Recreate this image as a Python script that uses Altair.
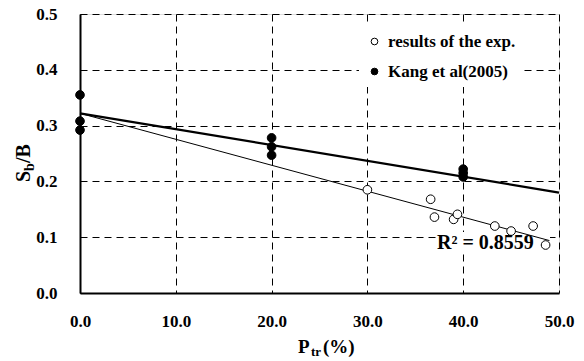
import altair as alt
import pandas as pd

# --- data ---
exp_x = [30.0, 36.6, 37.0, 39.0, 39.4, 43.3, 45.0, 47.3, 48.6]
exp_y = [0.185, 0.168, 0.136, 0.132, 0.141, 0.120, 0.111, 0.120, 0.086]

kang_x = [0, 0, 0, 20, 20, 20, 40, 40, 40]
kang_y = [0.355, 0.308, 0.292, 0.278, 0.262, 0.247, 0.222, 0.215, 0.208]

# regression lines (end points)
thick_x = [0, 50]
thick_y = [0.322, 0.180]
thin_x = [0, 49.0]
thin_y = [0.322, 0.094]

series_names = ["results of the exp.", "Kang et al(2005)"]
x_ticks = [0, 10, 20, 30, 40, 50]
y_ticks = [0, 0.1, 0.2, 0.3, 0.4, 0.5]
r2_label = "R² = 0.8559"

FONT = "Liberation Serif"

pts = pd.DataFrame({
    "x": exp_x + kang_x,
    "y": exp_y + kang_y,
    "s": [series_names[0]] * len(exp_x) + [series_names[1]] * len(kang_x),
})
thick = pd.DataFrame({"x": thick_x, "y": thick_y})
thin = pd.DataFrame({"x": thin_x, "y": thin_y})

xs = alt.Scale(domain=[0, 50], nice=False, zero=False)
ys = alt.Scale(domain=[0, 0.5], nice=False, zero=False)

common_axis = dict(format=".1f", title=None, ticks=False, labelFlush=False,
                   labelFont=FONT, labelFontWeight="bold", labelFontSize=17,
                   labelColor="black", domainColor="black", domainWidth=2,
                   gridColor="black", gridDash=[7, 5], gridWidth=1, gridOpacity=1)
xax = alt.Axis(values=x_ticks, labelPadding=20, **common_axis)
yax = alt.Axis(values=y_ticks, labelPadding=23, **common_axis)

base_axes = alt.Chart(pts).mark_point(opacity=0).encode(
    x=alt.X("x:Q", scale=xs, axis=xax),
    y=alt.Y("y:Q", scale=ys, axis=yax),
)

r2_bg = alt.Chart(pd.DataFrame({"t": [r2_label]})).mark_rect(color="white").encode(
    x=alt.value(356), x2=alt.value(470), y=alt.value(218), y2=alt.value(238)
)

thin_line = alt.Chart(thin).mark_line(color="black", strokeWidth=1).encode(
    x=alt.X("x:Q", scale=xs), y=alt.Y("y:Q", scale=ys)
)
thick_line = alt.Chart(thick).mark_line(color="black", strokeWidth=2.2).encode(
    x=alt.X("x:Q", scale=xs), y=alt.Y("y:Q", scale=ys)
)

points = alt.Chart(pts).mark_point(shape="circle", size=75, stroke="black",
                                   strokeWidth=1, filled=False, opacity=1).encode(
    x=alt.X("x:Q", scale=xs),
    y=alt.Y("y:Q", scale=ys),
    fill=alt.Fill("s:N", scale=alt.Scale(domain=series_names, range=["white", "black"]),
                  legend=alt.Legend(title=None, orient="none", legendX=279, legendY=12,
                                    fillColor="white", padding=7, rowPadding=12,
                                    symbolType="circle", symbolSize=45,
                                    symbolStrokeColor="black", symbolStrokeWidth=1,
                                    labelFont=FONT, labelFontWeight="bold",
                                    labelFontSize=17, labelColor="black",
                                    labelOffset=5)),
)

r2_text = alt.Chart(pd.DataFrame({"t": [r2_label]})).mark_text(
    font=FONT, fontWeight="bold", fontSize=20, align="left", baseline="middle",
    color="black").encode(text="t:N", x=alt.value(357), y=alt.value(229))

def txt(s, x, y, size, angle=0):
    return alt.Chart(pd.DataFrame({"t": [s]})).mark_text(
        font=FONT, fontWeight="bold", fontSize=size, align="left",
        baseline="alphabetic", color="black", angle=angle
    ).encode(text="t:N", x=alt.value(x), y=alt.value(y))

# x axis title  P_tr(%)
xt = [txt("P", 218, 339, 19), txt("tr", 231, 342, 13), txt("(%)", 243, 339, 19)]
# y axis title  S_b/B (rotated)
yt = [txt("S", -50, 168, 20, 270), txt("b", -46, 157, 14, 270),
      txt("/B", -50, 149, 20, 270)]

chart = alt.layer(base_axes, r2_bg, thin_line, thick_line, points, r2_text,
                  *xt, *yt).properties(
    width=479, height=279, autosize="none",
    padding={"left": 80, "top": 14, "right": 25, "bottom": 68},
).configure_view(stroke="black", strokeWidth=1.5).configure(background="white")

chart.save("out.html", embed_options={"renderer": "svg", "actions": False})
